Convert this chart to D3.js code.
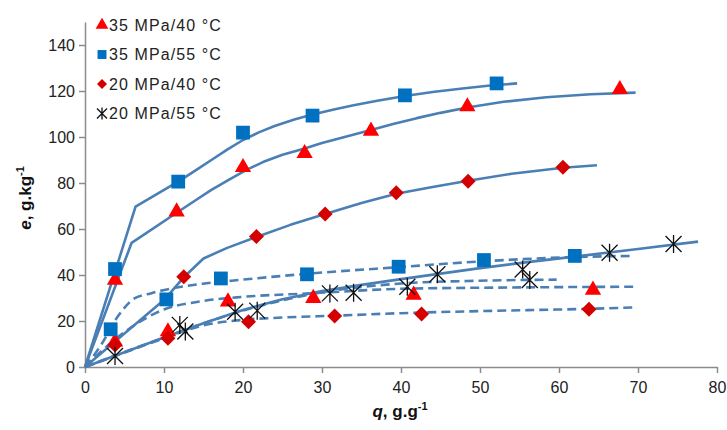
<!DOCTYPE html>
<html>
<head>
<meta charset="utf-8">
<script src="https://cdn.jsdelivr.net/npm/d3@7"></script>
<style>
  body { margin: 0; background: #fff; }
  svg { display: block; font-family: Arial, "Liberation Sans", sans-serif; }
</style>
</head>
<body>
<div id="chart"></div>
<script>
// legend labels, in drawing order
var seriesNames = ['35 MPa/40 °C', '35 MPa/55 °C', '20 MPa/40 °C', '20 MPa/55 °C'];

var tri35_40 = [[3.8,37.8],[11.6,67.5],[20,86.8],[27.8,92.9],[36.2,102.6],[48.4,113.2],[67.7,120.7],
                [3.8,11],[10.5,15.4],[18.1,28.4],[28.9,29.9],[41.6,31.3],[64.3,33.5]];
var sq35_55 = [[3.8,42.6],[11.8,80.6],[20,101.9],[28.8,109.3],[40.5,118.1],[52.1,123.3],
               [3.25,16.4],[10.3,29.4],[17.2,38.5],[28.1,40.3],[39.7,43.6],[50.5,46.5],[62,48.3]];
var dia20_40 = [[12.5,39.2],[21.7,56.7],[30.4,66.5],[39.4,75.8],[48.5,80.8],[60.5,86.8],
                [3.8,9.6],[10.5,12.5],[20.7,19.7],[31.6,22.2],[42.6,23],[63.8,25.1]];
var star20_55 = [[3.8,4.8],[12,18.3],[12.7,15.4],[19,24],[21.8,24.5],[31,32],[34,32.3],
                 [40.8,34.9],[44.6,40.3],[55.4,42.4],[56.3,37.8],[66.4,49.7],[74.5,53.5]];

// model curves (solid)
var fit35_55 = [[0,0],[6.4,69.7],[12,81],[14,85.5],[16,90],[18,94.5],[20,98.7],[22,102],[24,104.8],[26.5,107.6],[28.8,109.8],[31.5,112],[34,113.8],[37,115.8],[40.5,117.8],[44,119.6],[47.5,121],[51,122.3],[54.7,123.3]];
var fit35_40 = [[0,0],[5.9,54],[11.8,67.5],[14,72.5],[16,77],[18.3,81.6],[20.5,85.8],[22.6,89.2],[25,92.3],[27.8,95],[30,97.4],[32.5,99.7],[36.2,103],[39,105.6],[42,108.2],[45,110.5],[48.4,112.8],[53,115.3],[58.4,117.3],[64,118.6],[69.7,119.3]];
var fit20_40 = [[0,0],[10.1,29.5],[12.5,39],[15,47.2],[18,51.8],[21.7,56.5],[26,61.8],[30.4,66.5],[35,71.3],[39.4,75.3],[44,78.3],[48.5,81],[54,84],[60.5,86.6],[64.8,87.7]];
var fit20_55 = [[0,0],[10,12.8],[15,19],[20,24.8],[25,29.5],[30,33],[35,35.7],[40,38.2],[45,40.6],[50,43],[56,45.6],[62,48],[70,51.3],[77.6,54.5]];

// model curves (dashed)
var dash35_55 = [[0,0],[2,9.4],[4.1,21.7],[6.2,29.7],[8.3,32],[14.9,36.2],[20,38],[28,40.5],[40,43.5],[50.5,46],[62,47.8],[69.2,48.3]];
var dash35_40 = [[0,0],[3.8,12],[10,25],[14.6,28.5],[20,30.5],[28.5,32],[40,34],[55,34.6],[69.6,34.9]];
var dash20_55 = [[0,0],[5,6.5],[10,12.8],[15,19],[20,24.5],[25,29],[30,32.5],[35,34.8],[40,36.3],[50,37.5],[59.7,38]];
var dash20_40 = [[0,0],[5,6.3],[10,12.5],[14.6,17.8],[20,20.5],[25,21.5],[31.6,22.3],[40,23.4],[50,24.3],[63.8,25.3],[69.6,25.9]];

var xTicks = [0,10,20,30,40,50,60,70,80];
var yTicks = [0,20,40,60,80,100,120,140];

var width = 727, height = 430;
var lineColor = '#4a7fb5';

var svg = d3.select('#chart').append('svg')
  .attr('width', width)
  .attr('height', height);

var x = d3.scaleLinear().domain([0, 80]).range([85, 717]);
var y = d3.scaleLinear().domain([0, 150]).range([367, 22]);

// axes
var xAxis = svg.append('g')
  .attr('transform', 'translate(0,' + y(0) + ')')
  .call(d3.axisBottom(x).tickValues(xTicks).tickSize(6).tickSizeOuter(0).tickPadding(9));
var yAxis = svg.append('g')
  .attr('transform', 'translate(' + x(0) + ',0)')
  .call(d3.axisLeft(y).tickValues(yTicks).tickSize(6).tickSizeOuter(0).tickPadding(4));

[xAxis, yAxis].forEach(function(ax){
  ax.select('.domain').attr('stroke', '#8c8c8c').attr('stroke-width', 1.5);
  ax.selectAll('.tick line').attr('stroke', '#8c8c8c').attr('stroke-width', 1.5);
  ax.selectAll('.tick text')
    .attr('fill', '#222')
    .style('font-size', '16px')
    .style('font-family', 'Arial, "Liberation Sans", sans-serif');
});

// curves: solid ones have visible kinks, so straight segments; dashed ones smooth
var solidLine = d3.line()
  .x(function(d){ return x(d[0]); })
  .y(function(d){ return y(d[1]); })
  .curve(d3.curveLinear);
var dashLine = d3.line()
  .x(function(d){ return x(d[0]); })
  .y(function(d){ return y(d[1]); })
  .curve(d3.curveMonotoneX);

[dash35_55, dash35_40, dash20_55, dash20_40].forEach(function(c){
  svg.append('path')
    .attr('d', dashLine(c))
    .attr('fill', 'none')
    .attr('stroke', lineColor)
    .attr('stroke-width', 2.6)
    .attr('stroke-dasharray', '9,5');
});
[fit35_55, fit35_40, fit20_40, fit20_55].forEach(function(c){
  svg.append('path')
    .attr('d', solidLine(c))
    .attr('fill', 'none')
    .attr('stroke', lineColor)
    .attr('stroke-width', 2.6)
    .attr('stroke-linejoin', 'round');
});

// markers
var triangle = d3.symbol().type(d3.symbolTriangle).size(115);
var square = d3.symbol().type(d3.symbolSquare).size(190);
var diamondPath = 'M0,-7.5L7.5,0L0,7.5L-7.5,0Z';
var starPath = 'M0,-9L0,9M-8,-8L8,8M-8,8L8,-8';

function styleMarker(sel, kind){
  if (kind === 'tri') {
    sel.attr('d', triangle()).attr('fill', '#ff0000');
  } else if (kind === 'sq') {
    sel.attr('d', square()).attr('fill', '#0070c0');
  } else if (kind === 'dia') {
    sel.attr('d', diamondPath).attr('fill', '#d40000');
  } else {
    sel.attr('d', starPath).attr('fill', 'none').attr('stroke', '#111').attr('stroke-width', 1.3);
  }
}

function drawMarkers(points, kind){
  var sel = svg.append('g').selectAll('path').data(points).enter().append('path')
    .attr('transform', function(d){ return 'translate(' + x(d[0]) + ',' + y(d[1]) + ')'; });
  styleMarker(sel, kind);
}

drawMarkers(tri35_40, 'tri');
drawMarkers(sq35_55, 'sq');
drawMarkers(dia20_40, 'dia');
drawMarkers(star20_55, 'star');

// legend
var kinds = ['tri', 'sq', 'dia', 'star'];
var legend = svg.append('g').attr('transform', 'translate(102,25)');
seriesNames.forEach(function(name, i){
  var row = legend.append('g').attr('transform', 'translate(0,' + (i * 29.5) + ')');
  var m = row.append('path');
  styleMarker(m, kinds[i]);
  if (kinds[i] === 'star') m.attr('d', 'M0,-6L0,6M-5,-5L5,5M-5,5L5,-5');
  else if (kinds[i] === 'sq') m.attr('d', d3.symbol().type(d3.symbolSquare).size(80)());
  else if (kinds[i] === 'tri') m.attr('d', d3.symbol().type(d3.symbolTriangle).size(70)());
  else m.attr('d', 'M0,-5L5,0L0,5L-5,0Z');
  row.append('text')
    .attr('x', 7)
    .attr('dy', '0.36em')
    .attr('fill', '#222')
    .style('font-size', '16px')
    .style('letter-spacing', '1.1px')
    .text(name);
});

// axis titles
var xt = svg.append('text')
  .attr('x', 400)
  .attr('y', 417)
  .attr('text-anchor', 'middle')
  .attr('fill', '#111')
  .style('font-size', '17px')
  .style('font-weight', 'bold');
xt.append('tspan').style('font-style', 'italic').text('q');
xt.append('tspan').text(', g.g');
xt.append('tspan').attr('dy', -7).style('font-size', '11px').text('-1');

var yt = svg.append('text')
  .attr('transform', 'translate(31,198) rotate(-90)')
  .attr('text-anchor', 'middle')
  .attr('fill', '#111')
  .style('font-size', '17px')
  .style('font-weight', 'bold');
yt.append('tspan').style('font-style', 'italic').text('e');
yt.append('tspan').text(', g.kg');
yt.append('tspan').attr('dy', -7).style('font-size', '11px').text('-1');
</script>
</body>
</html>
